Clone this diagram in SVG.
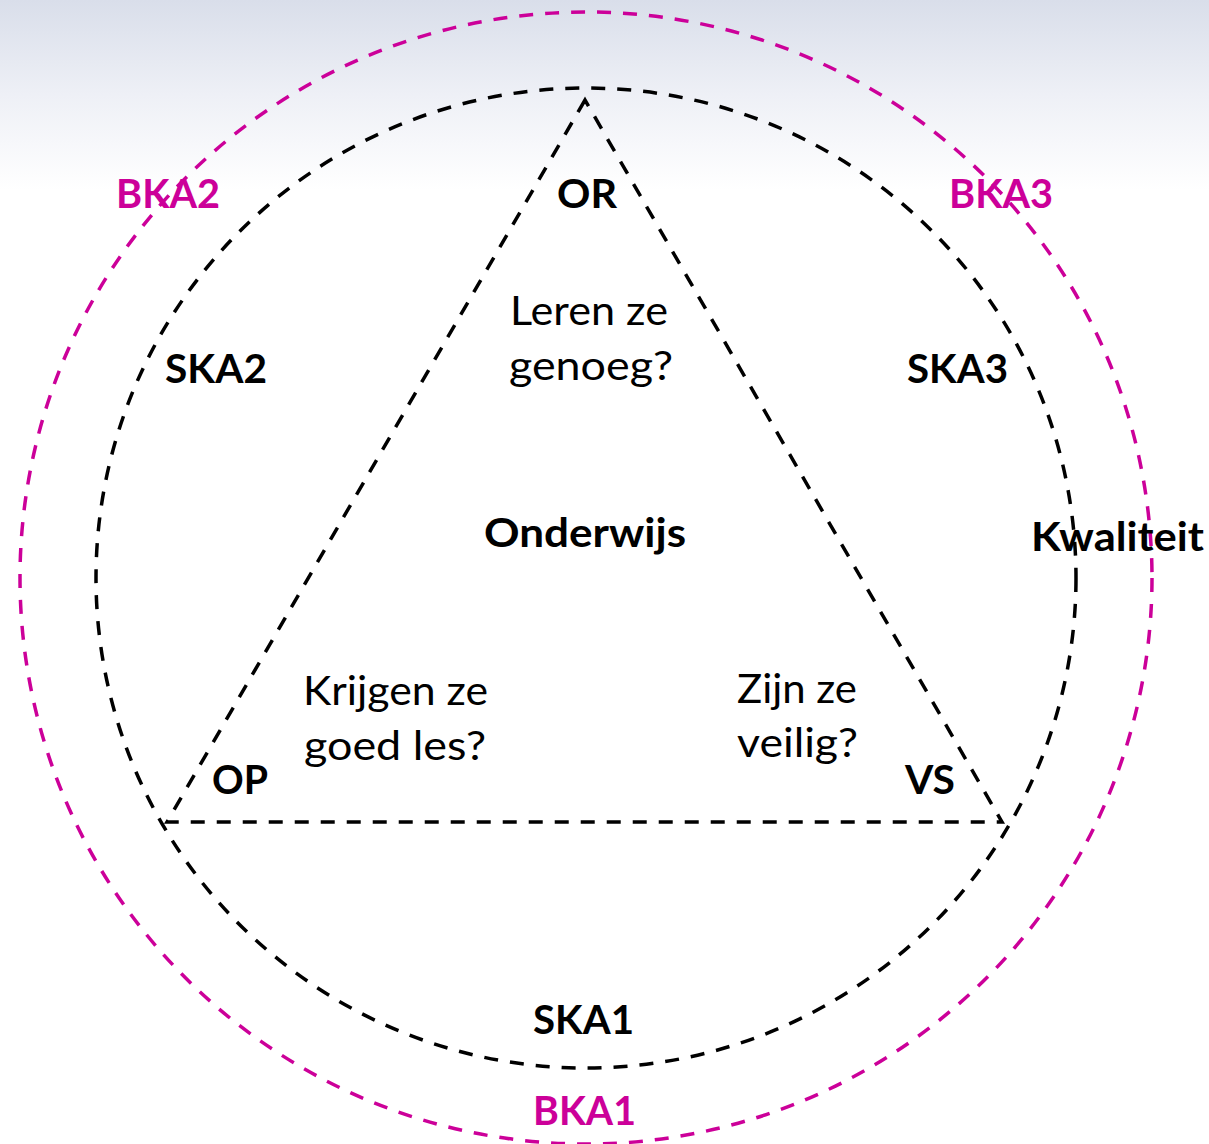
<svg xmlns="http://www.w3.org/2000/svg" width="1209" height="1144" viewBox="0 0 1209 1144">
  <defs>
    <linearGradient id="bg" x1="0" y1="0" x2="0" y2="1">
      <stop offset="0" stop-color="#D9DEEA"/>
      <stop offset="0.5" stop-color="#EEF0F6"/>
      <stop offset="1" stop-color="#FFFFFF"/>
    </linearGradient>
  </defs>
  <style>
    .blk { fill: none; stroke: #000; stroke-width: 3.5; stroke-dasharray: 14 12; }
    .mag { fill: none; stroke: #CC0099; stroke-width: 3.5; stroke-dasharray: 14 12; }
    text { font-family: Lato, "Open Sans", "Liberation Sans", sans-serif; font-size: 41px; }
    .b { font-weight: bold; fill: #000; }
    .m { font-weight: bold; fill: #CC0099; }
    .r { font-weight: normal; fill: #000; }
  </style>
  <rect x="0" y="0" width="1209" height="1144" fill="#FFFFFF"/>
  <rect x="0" y="0" width="1209" height="190" fill="url(#bg)"/>

  <g id="connectors">
    <circle id="outer-circle" class="mag" cx="586" cy="578" r="566"/>
    <circle id="inner-circle" class="blk" cx="586" cy="578" r="490"/>
    <polygon id="triangle" class="blk" points="585,100 167,822 1002,822"/>
  </g>

  <g id="bka2"><text class="m" x="116" y="208" textLength="104" lengthAdjust="spacingAndGlyphs">BKA2</text></g>
  <g id="bka3"><text class="m" x="949" y="208" textLength="104" lengthAdjust="spacingAndGlyphs">BKA3</text></g>
  <g id="bka1"><text class="m" x="533" y="1125" textLength="103" lengthAdjust="spacingAndGlyphs">BKA1</text></g>
  <g id="or"><text class="b" x="557" y="208" textLength="60" lengthAdjust="spacingAndGlyphs">OR</text></g>
  <g id="ska2"><text class="b" x="165" y="383" textLength="102" lengthAdjust="spacingAndGlyphs">SKA2</text></g>
  <g id="ska3"><text class="b" x="907" y="383" textLength="101" lengthAdjust="spacingAndGlyphs">SKA3</text></g>
  <g id="ska1"><text class="b" x="533" y="1034" textLength="101" lengthAdjust="spacingAndGlyphs">SKA1</text></g>
  <g id="onderwijs"><text class="b" x="484" y="547" textLength="202" lengthAdjust="spacingAndGlyphs">Onderwijs</text></g>
  <g id="kwaliteit"><text class="b" x="1031" y="551" textLength="173" lengthAdjust="spacingAndGlyphs">Kwaliteit</text></g>
  <g id="op"><text class="b" x="212" y="794" textLength="56" lengthAdjust="spacingAndGlyphs">OP</text></g>
  <g id="vs"><text class="b" x="905" y="794" textLength="50" lengthAdjust="spacingAndGlyphs">VS</text></g>
  <g id="leren">
    <text class="r" x="510" y="325" textLength="158" lengthAdjust="spacingAndGlyphs">Leren ze</text>
    <text class="r" x="509" y="380" textLength="164" lengthAdjust="spacingAndGlyphs">genoeg?</text>
  </g>
  <g id="krijgen">
    <text class="r" x="303" y="705" textLength="185" lengthAdjust="spacingAndGlyphs">Krijgen ze</text>
    <text class="r" x="304" y="760" textLength="182" lengthAdjust="spacingAndGlyphs">goed les?</text>
  </g>
  <g id="zijn">
    <text class="r" x="737" y="703" textLength="120" lengthAdjust="spacingAndGlyphs">Zijn ze</text>
    <text class="r" x="737" y="757" textLength="121" lengthAdjust="spacingAndGlyphs">veilig?</text>
  </g>
</svg>
